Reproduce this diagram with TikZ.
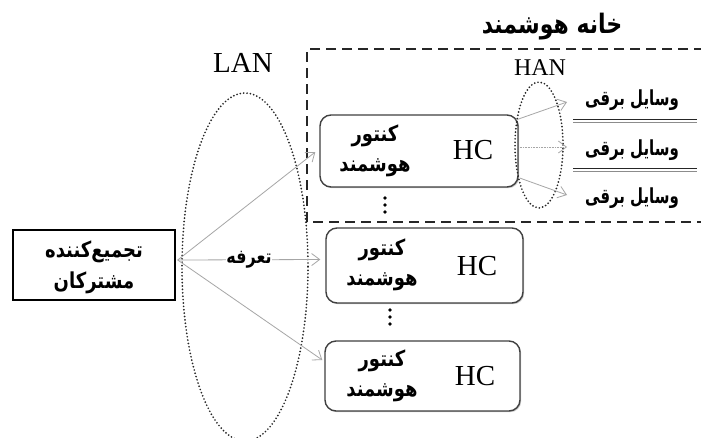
\documentclass[tikz,border=0pt]{standalone}
\usepackage{fontspec}
\usepackage{graphicx}
\setmainfont{Liberation Serif}
\newfontfamily\fa[Script=Arabic]{DejaVu Sans}
\TeXXeTstate=1
\usetikzlibrary{arrows.meta,shadows,calc}
\newcommand{\fatext}[2][1]{\scalebox{#1}[1.22]{\fa\bfseries\beginR #2\endR}}
\tikzset{
  aggbox/.style={draw=black,line width=1.4pt,minimum width=162pt,minimum height=70pt,inner sep=0pt},
  hcbox/.style={draw=black!75,fill=white,line width=1.4pt,rounded corners=11pt,inner sep=0pt,
    drop shadow={shadow xshift=1.2pt,shadow yshift=-1.2pt,opacity=0.35,fill=black!60}},
  fatxt/.style={font=\fontsize{18}{30}\selectfont,align=center,inner sep=0pt},
  lat/.style={font=\fontsize{29}{32}\selectfont,inner sep=0pt},
  dotell/.style={draw=black!85,line width=1.9pt,dash pattern=on 0pt off 3.4pt,line cap=round},
  flow/.style={draw=black!35,line width=0.8pt,-{Straight Barb[length=8pt,width=12pt]}},
  home/.style={draw=black!85,line width=1.4pt,dash pattern=on 10pt off 6pt},
  dotmark/.style={fill=black,circle,inner sep=0pt,minimum size=3.6pt},
}
\begin{document}
\begin{tikzpicture}[x=1pt,y=-1pt]
\useasboundingbox (0,0) rectangle (701,437);
\fill[white] (0,0) rectangle (701,437);

% smart home dashed frame
\draw[home] (704,49) -- (307,49) -- (307,222) -- (704,222);
\node[font=\fontsize{22}{26}\selectfont,inner sep=0pt] (title) at (552,27) {\fatext{خانه هوشمند}};

% LAN ellipse
\draw[dotell] (245,267) ellipse [x radius=63, y radius=174];
\node[lat] (lan) at (243,63) {LAN};

% aggregator
\node[aggbox] (agg) at (94,265) {};
\node[fatxt,font=\fontsize{18}{31}\selectfont] (aggtxt) at (94,267) {\fatext{تجمیع‌کننده}\\\fatext{مشترکان}};

% HC boxes
\node[hcbox,minimum width=198pt,minimum height=72pt] (hc1) at (419,151) {};
\node[hcbox,minimum width=197pt,minimum height=75pt] (hc2) at (424.5,265.5) {};
\node[hcbox,minimum width=195pt,minimum height=70pt] (hc3) at (422.5,376) {};

\node[fatxt] (m1) at (375,151) {\fatext{کنتور}\\\fatext{هوشمند}};
\node[lat] (h1) at (473,150) {HC};
\node[fatxt] (m2) at (382,265) {\fatext{کنتور}\\\fatext{هوشمند}};
\node[lat] (h2) at (477,266) {HC};
\node[fatxt] (m3) at (382,376) {\fatext{کنتور}\\\fatext{هوشمند}};
\node[lat] (h3) at (475,376) {HC};

% vertical dots
\foreach \yy in {198,205,212} \node[dotmark] at (385,\yy) {};
\foreach \yy in {310,317,324} \node[dotmark] at (390,\yy) {};

% LAN arrows
\coordinate (src) at ($(agg.east)+(2,-5)$);
\draw[flow] (src) -- ($(hc1.west)+(-4,1)$);
\draw[flow] (src) -- node[fill=white,inner xsep=6pt,inner ysep=3pt,fatxt,font=\fontsize{16}{20}\selectfont] (tar) {\fatext{تعرفه}} ($(hc2.west)+(-5,-6)$);
\draw[flow] (src) -- ($(hc3.west)+(-2,-16)$);

% HAN ellipse
\draw[dotell] (539,145) ellipse [x radius=24, y radius=63];
\node[lat,font=\fontsize{24}{28}\selectfont] (han) at (540,68) {HAN};

% appliances
\node[fatxt,font=\fontsize{17}{20}\selectfont] (a1) at (632,100) {\fatext[0.88]{وسایل برقی}};
\node[fatxt,font=\fontsize{17}{20}\selectfont] (a2) at (632,150) {\fatext[0.88]{وسایل برقی}};
\node[fatxt,font=\fontsize{17}{20}\selectfont] (a3) at (632,198) {\fatext[0.88]{وسایل برقی}};
\coordinate (e1) at (567,102);
\coordinate (e2) at (567,147);
\coordinate (e3) at (567,195);
\draw[flow] ($(hc1.east)+(-3,-31)$) -- (e1);
\draw[flow,dash pattern=on 1pt off 0.6pt] ($(hc1.east)+(1,-4)$) -- (e2);
\draw[flow] ($(hc1.east)+(1,27)$) -- (e3);

% separators
\draw[black!85,line width=1pt] (573,119) -- (697,119);
\draw[black!45,line width=0.8pt] (573,122) -- (697,122);
\draw[black!85,line width=1pt] (573,168.5) -- (697,168.5);
\draw[black!45,line width=0.8pt] (573,171.5) -- (697,171.5);
\end{tikzpicture}
\end{document}
